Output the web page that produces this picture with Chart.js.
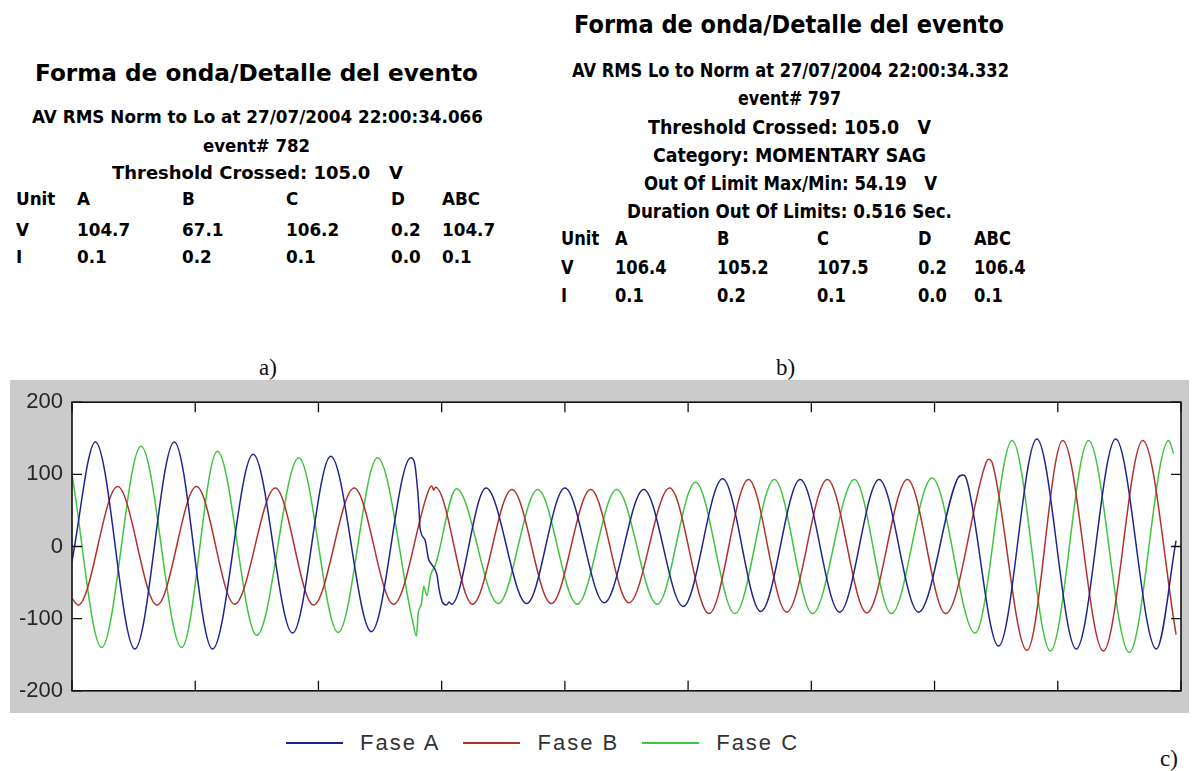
<!DOCTYPE html>
<html>
<head>
<meta charset="utf-8">
<script src="https://cdn.jsdelivr.net/npm/chart.js@4.4.0/dist/chart.umd.min.js"></script>
<style>
  body { margin: 0; width: 1194px; height: 771px; position: relative; overflow: hidden; background: #fff; font-family: "DejaVu Sans", sans-serif; }
  .ln { position: absolute; white-space: pre; font-weight: bold; line-height: 1; transform-origin: 0 50%; color: #000; }
  .cap { position: absolute; font-family: "Liberation Serif", serif; font-size: 23px; line-height: 1; color: #111; }
  #wrap { position: absolute; left: 10px; top: 380px; width: 1179px; height: 333px; background: #cbcbcb; }
  #legend { position: absolute; left: 286px; top: 731px; height: 24px; display: flex; align-items: center;
            font-family: "Liberation Sans", sans-serif; font-size: 22px; letter-spacing: 2px; color: #333; }
  #legend .sw { display: inline-block; width: 57px; height: 2px; margin-right: 17px; }
  #legend .it { display: flex; align-items: center; margin-right: 23px; }
</style>
</head>
<body>
<div id="wrap"><canvas id="waveChart" width="1179" height="333"></canvas></div>
<div id="legend"></div>
<div class="cap" style="left:259px; top:356px;">a)</div>
<div class="cap" style="left:776px; top:356px;">b)</div>
<div class="cap" style="left:1160px; top:747px;">c)</div>

<script>
/* ===== Data (x in samples, y in volts) ===== */
const xTicks = [0, 100, 200, 300, 400, 500, 600, 700, 800, 900];
const yTicks = [-200, -100, 0, 100, 200];
const seriesNames = ["Fase A", "Fase B", "Fase C"];
const seriesColors = ["#1f238f", "#b3302e", "#3fc43f"];

// peaks / troughs (plus the noisy bits at the two steps)
const faseA = [[0,-20],[19,145],[51,-142],[83,145],[114,-142],[147,128],[179,-120],[210,125],[243,-118],
  [275,123],[278,116],[280.5,78],[281.6,52],[282.4,26],[286.5,9],[289.3,-17],[292,-25],[296,-38],[298,-60],
  [300.6,-77],[304,-81],[306,-77],[308,-80],[336,81],[369,-79],[400,81],[432,-78],[464,79],[496,-83],
  [528,94],[559,-90],[591,93],[623,-91],[655,93],[687,-91],[719,95],[723,99],[726,93],[752,-138],
  [783,149],[815,-142],[847,149],[880,-142],[896,8]];
const faseB = [[0,-72],[5,-81],[37,83],[69,-81],[101,83],[132,-80],[165,81],[196,-81],[229,81],[261,-80],
  [290,80],[292,84],[293.5,78],[295,82],[325,-80],[357,79],[389,-79],[421,79],[452,-78],[485,81],[517,-93],
  [549,93],[580,-91],[613,93],[645,-92],[678,93],[709,-93],[742,117],[744,121],[747,115],[775,-144],
  [804,147],[837,-145],[869,147],[896,-122]];
const faseC = [[0,100],[24,-140],[56,139],[89,-140],[118,132],[150,-123],[184,123],[216,-119],[248,123],
  [276,-100],[279.5,-124],[281,-92],[283.5,-80],[285.5,-55],[288,-68],[291,-40],[295,-25],[312,80],
  [346,-79],[378,79],[410,-80],[442,79],[475,-80],[506,89],[538,-93],[570,93],[601,-93],[635,93],
  [665,-93],[698,95],[733,-120],[763,147],[794,-145],[825,147],[858,-147],[890,147],[894,129]];
const seriesData = [faseA, faseB, faseC];

/* ===== Event detail panels ===== */
// [text, left, centre y, width, font size]
const infoA = [
  ["Forma de onda/Detalle del evento", 35, 73, 443, 23],
  ["AV RMS Norm to Lo at 27/07/2004 22:00:34.066", 32, 117, 451, 17],
  ["event# 782", 203, 146, 107, 17],
  ["Threshold Crossed: 105.0   V", 112, 173, 291, 17]
];
const tableA = {
  cols: [16, 77, 182, 286, 391, 442],
  rows: [199, 230, 257],
  size: 17,
  cells: [["Unit", "A", "B", "C", "D", "ABC"],
          ["V", "104.7", "67.1", "106.2", "0.2", "104.7"],
          ["I", "0.1", "0.2", "0.1", "0.0", "0.1"]]
};
const infoB = [
  ["Forma de onda/Detalle del evento", 574, 25, 430, 24],
  ["AV RMS Lo to Norm at 27/07/2004 22:00:34.332", 572, 70, 437, 19],
  ["event# 797", 738, 98, 103, 19],
  ["Threshold Crossed: 105.0   V", 648, 127, 283, 19],
  ["Category: MOMENTARY SAG", 653, 155, 273, 19],
  ["Out Of Limit Max/Min: 54.19   V", 644, 183, 293, 19],
  ["Duration Out Of Limits: 0.516 Sec.", 627, 211, 325, 19]
];
const tableB = {
  cols: [561, 615, 717, 817, 918, 974],
  rows: [238, 267, 295],
  size: 19,
  cells: [["Unit", "A", "B", "C", "D", "ABC"],
          ["V", "106.4", "105.2", "107.5", "0.2", "106.4"],
          ["I", "0.1", "0.2", "0.1", "0.0", "0.1"]]
};

function addLine(text, left, cy, fs) {
  const d = document.createElement("div");
  d.className = "ln";
  d.textContent = text;
  d.style.left = left + "px";
  d.style.top = (cy - fs / 2) + "px";
  d.style.fontSize = fs + "px";
  document.body.appendChild(d);
  return d;
}

function buildPanel(lines, table) {
  let sx = 1;
  lines.forEach((l, i) => {
    const d = addLine(l[0], l[1], l[2], l[4]);
    const s = l[3] / d.getBoundingClientRect().width;
    d.style.transform = "scaleX(" + s + ")";
    if (i === 1) sx = s;
  });
  table.cells.forEach((row, r) => {
    row.forEach((txt, c) => {
      const d = addLine(txt, table.cols[c], table.rows[r], table.size);
      d.style.transform = "scaleX(" + sx + ")";
    });
  });
}

buildPanel(infoA, tableA);
buildPanel(infoB, tableB);

/* ===== Legend ===== */
const legend = document.getElementById("legend");
seriesNames.forEach((name, i) => {
  const it = document.createElement("div");
  it.className = "it";
  it.innerHTML = `<span class="sw" style="background:${seriesColors[i]}"></span><span>${name}</span>`;
  legend.appendChild(it);
});

/* ===== Chart ===== */
const frame = {
  id: "frame",
  beforeDatasetsDraw(chart) {
    const { ctx, chartArea: a } = chart;
    ctx.save();
    ctx.fillStyle = "#fff";
    ctx.fillRect(a.left, a.top, a.right - a.left, a.bottom - a.top);
    ctx.restore();
  },
  afterDatasetsDraw(chart) {
    const { ctx, chartArea: a, scales } = chart;
    ctx.save();
    ctx.strokeStyle = "#111";
    ctx.lineWidth = 1.6;
    ctx.strokeRect(a.left, a.top, a.right - a.left, a.bottom - a.top);
    ctx.lineWidth = 1.3;
    ctx.beginPath();
    xTicks.forEach(v => {
      const px = scales.x.getPixelForValue(v);
      ctx.moveTo(px, a.bottom); ctx.lineTo(px, a.bottom - 10);
      ctx.moveTo(px, a.top); ctx.lineTo(px, a.top + 10);
    });
    yTicks.forEach(v => {
      const py = scales.y.getPixelForValue(v);
      ctx.moveTo(a.left, py); ctx.lineTo(a.left + 10, py);
      ctx.moveTo(a.right, py); ctx.lineTo(a.right - 10, py);
    });
    ctx.stroke();
    ctx.restore();
  }
};

new Chart(document.getElementById("waveChart"), {
  type: "line",
  data: {
    datasets: seriesData.map((pts, i) => ({
      label: seriesNames[i],
      data: pts.map(p => ({ x: p[0], y: p[1] })),
      borderColor: seriesColors[i],
      borderWidth: 1.5,
      pointRadius: 0,
      cubicInterpolationMode: "monotone",
      fill: false
    }))
  },
  options: {
    responsive: false,
    animation: false,
    layout: { padding: { left: 0, right: 8, top: 12, bottom: 11 } },
    plugins: { legend: { display: false }, tooltip: { enabled: false } },
    scales: {
      x: { type: "linear", min: 0, max: 900, display: false },
      y: {
        min: -200, max: 200,
        afterFit: s => { s.width = 62; },
        afterBuildTicks: s => { s.ticks = yTicks.map(v => ({ value: v })); },
        ticks: { padding: 9, color: "#262626", font: { family: "Liberation Sans", size: 22 } },
        grid: { display: false, drawTicks: false },
        border: { display: false }
      }
    }
  },
  plugins: [frame]
});
</script>
</body>
</html>
